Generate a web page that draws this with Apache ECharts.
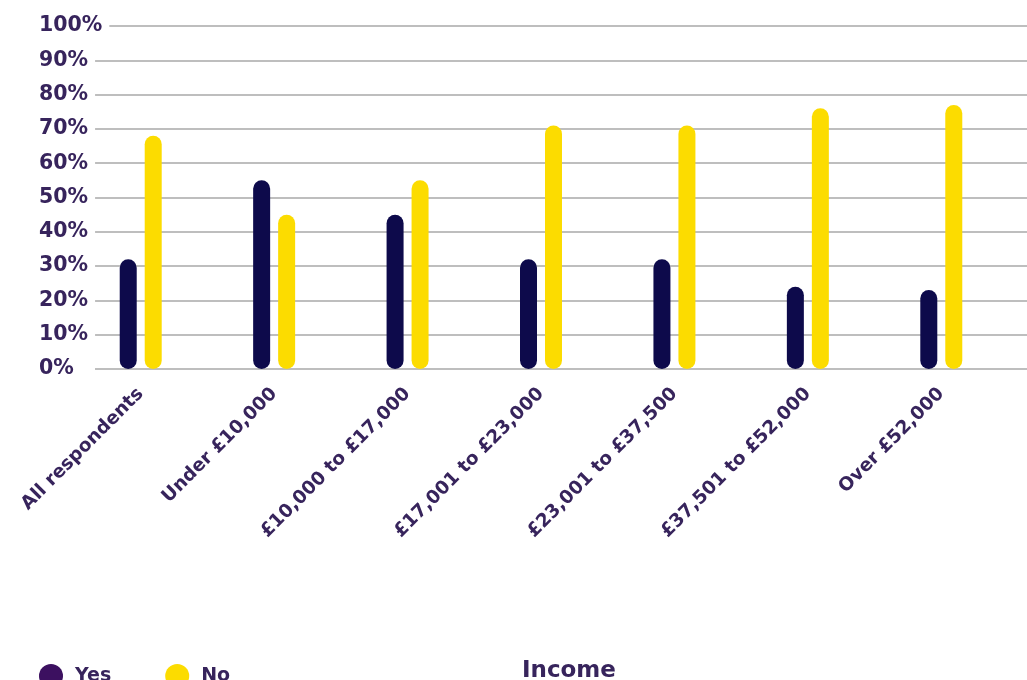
<!DOCTYPE html>
<html>
<head>
<meta charset="utf-8">
<script src="https://cdn.jsdelivr.net/npm/echarts@6/dist/echarts.min.js"></script>
<style>
html,body{margin:0;padding:0;background:#fff;}
#chart{width:1027px;height:680px;}
</style>
</head>
<body>
<div id="chart"></div>
<script>
const categories = ['All respondents', 'Under £10,000', '£10,000 to £17,000', '£17,001 to £23,000', '£23,001 to £37,500', '£37,501 to £52,000', 'Over £52,000'];
const yesValues = [32, 55, 45, 32, 32, 24, 23];
const noValues = [68, 45, 55, 71, 71, 76, 77];
const seriesNames = ['Yes', 'No'];
const axisTitle = 'Income';
const yMin = 0, yMax = 100, yStep = 10;

const FONT = 'DejaVu Sans';
const TXT = '#37245c';
const NAVY = '#0d0a4b';
const YELLOW = '#fcdc00';

const chart = echarts.init(document.getElementById('chart'));
chart.setOption({
  backgroundColor: '#fff',
  animation: false,
  title: {
    text: axisTitle,
    left: 517, top: 655,
    textStyle: { fontFamily: FONT, fontWeight: 'bold', fontSize: 23, color: TXT }
  },
  legend: {
    left: 34, top: 659,
    icon: 'circle',
    itemWidth: 24, itemHeight: 24,
    itemGap: 54,
    textStyle: { fontFamily: FONT, fontWeight: 'bold', fontSize: 19, color: TXT, padding: [0, 0, 0, 7] },
    data: [
      { name: seriesNames[0], itemStyle: { color: '#3c1060' } },
      { name: seriesNames[1], itemStyle: { color: YELLOW } }
    ]
  },
  grid: [
    { left: 95, right: 0, top: 26, bottom: 311 },
    { left: 74, right: 19, top: 26, bottom: 311 }
  ],
  xAxis: [
    { gridIndex: 0, type: 'category', data: categories, show: false },
    {
      gridIndex: 1, type: 'category', data: categories,
      axisLine: { show: false }, axisTick: { show: false },
      axisLabel: {
        interval: 0, rotate: 45, margin: 22,
        fontFamily: FONT, fontWeight: 'bold', fontSize: 18.5, color: TXT
      }
    }
  ],
  yAxis: [
    {
      gridIndex: 0, type: 'value', min: yMin, max: yMax, interval: yStep,
      axisLine: { show: false }, axisTick: { show: false },
      splitLine: { lineStyle: { color: '#a8a8a8', width: 1.5 } },
      axisLabel: {
        formatter: '{value}%', align: 'left', margin: 56,
        fontFamily: FONT, fontWeight: 'bold', fontSize: 20.5, color: TXT,
        backgroundColor: '#fff', padding: [2, 7, 2, 0]
      }
    },
    { gridIndex: 1, type: 'value', min: yMin, max: yMax, interval: yStep, show: false }
  ],
  series: [
    {
      name: seriesNames[0], type: 'bar', xAxisIndex: 1, yAxisIndex: 1,
      data: yesValues, barWidth: 17, barGap: '47%',
      itemStyle: { color: NAVY, borderRadius: 8.5 }
    },
    {
      name: seriesNames[1], type: 'bar', xAxisIndex: 1, yAxisIndex: 1,
      data: noValues, barWidth: 17, barGap: '47%',
      itemStyle: { color: YELLOW, borderRadius: 8.5 }
    }
  ]
});
</script>
</body>
</html>
